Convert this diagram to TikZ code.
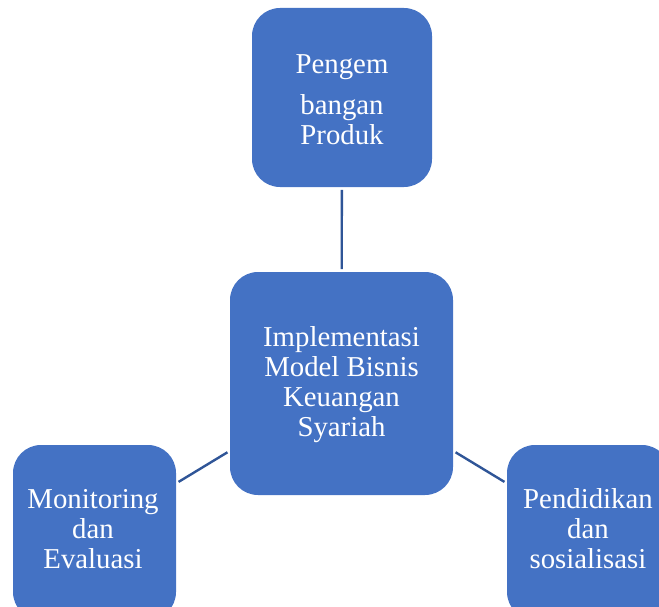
\documentclass[tikz,border=0pt]{standalone}
\usepackage{fontspec}
\setmainfont{Liberation Serif}
\definecolor{boxblue}{HTML}{4472C4}
\definecolor{lineblue}{HTML}{2F5597}
\begin{document}
\begin{tikzpicture}[x=0.75pt,y=-0.75pt,
  box/.style={draw=none,fill=boxblue,rounded corners=21pt,inner sep=0pt},
  lbl/.style={text=white,align=center,inner sep=0pt,font=\fontsize{21.6}{22.5}\selectfont},
  conn/.style={draw=lineblue,line width=1.8pt,shorten >=2pt,shorten <=2pt}]
\useasboundingbox (0,0) rectangle (659,606);
\clip (0,0) rectangle (659,606);
\node[box,minimum width=135pt,minimum height=134.25pt] (top) at (342,97.5) {};
\node[box,minimum width=167.25pt,minimum height=167.25pt] (mid) at (341.5,383.5) {};
\node[box,minimum width=122.25pt,minimum height=131.25pt] (left) at (94.5,532.5) {};
\node[box,minimum width=122.25pt,minimum height=131.25pt] (right) at (588.5,532.5) {};
\draw[conn] (top) -- (mid);
\draw[conn] (mid) -- (left);
\draw[conn] (mid) -- (right);
\node[lbl] (toptxt) at (342,100) {Pengem\\[8pt]bangan\\Produk};
\node[lbl] (midtxt) at (341.5,385) {Implementasi\\Model Bisnis\\Keuangan\\Syariah};
\node[lbl] (lefttxt) at (93,529) {Monitoring\\dan\\Evaluasi};
\node[lbl] (righttxt) at (588,529) {Pendidikan\\dan\\sosialisasi};
\end{tikzpicture}
\end{document}
